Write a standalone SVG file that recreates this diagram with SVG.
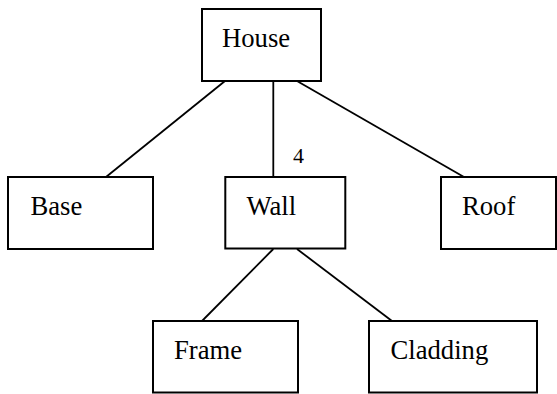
<svg xmlns="http://www.w3.org/2000/svg" width="557" height="394" viewBox="0 0 557 394">
  <style>
    .box { fill: #ffffff; stroke: #000000; stroke-width: 2; }
    .edge { stroke: #000000; stroke-width: 1.8; fill: none; }
  </style>
  <rect width="557" height="394" fill="#ffffff"/>

  <!-- connectors -->
  <g id="connectors">
    <line class="edge" x1="225" y1="81" x2="106" y2="177"/>
    <line class="edge" x1="273.3" y1="81" x2="273.3" y2="177"/>
    <line class="edge" x1="297" y1="81" x2="464" y2="177"/>
    <line class="edge" x1="273.3" y1="249" x2="202" y2="321"/>
    <line class="edge" x1="297" y1="249" x2="392" y2="321"/>
    <text x="293" y="163" font-family="Liberation Serif, Times New Roman, serif" font-size="22">4</text>
  </g>

  <!-- nodes; labels share one serif face -->
  <g font-family="Liberation Serif, Times New Roman, serif" font-size="26.67" fill="#000000">
    <g id="house">
      <rect class="box" x="202" y="9" width="119" height="72"/>
      <text x="222" y="47">House</text>
    </g>
    <g id="base">
      <rect class="box" x="8" y="177" width="145" height="72"/>
      <text x="30.5" y="215">Base</text>
    </g>
    <g id="wall">
      <rect class="box" x="225.3" y="177" width="120" height="71.5"/>
      <text x="246.5" y="215">Wall</text>
    </g>
    <g id="roof">
      <rect class="box" x="441" y="177" width="115" height="72"/>
      <text x="462" y="215">Roof</text>
    </g>
    <g id="frame">
      <rect class="box" x="153" y="321" width="145" height="71.5"/>
      <text x="174" y="359">Frame</text>
    </g>
    <g id="cladding">
      <rect class="box" x="369" y="321" width="168" height="71.5"/>
      <text x="390.5" y="359">Cladding</text>
    </g>
  </g>
</svg>
